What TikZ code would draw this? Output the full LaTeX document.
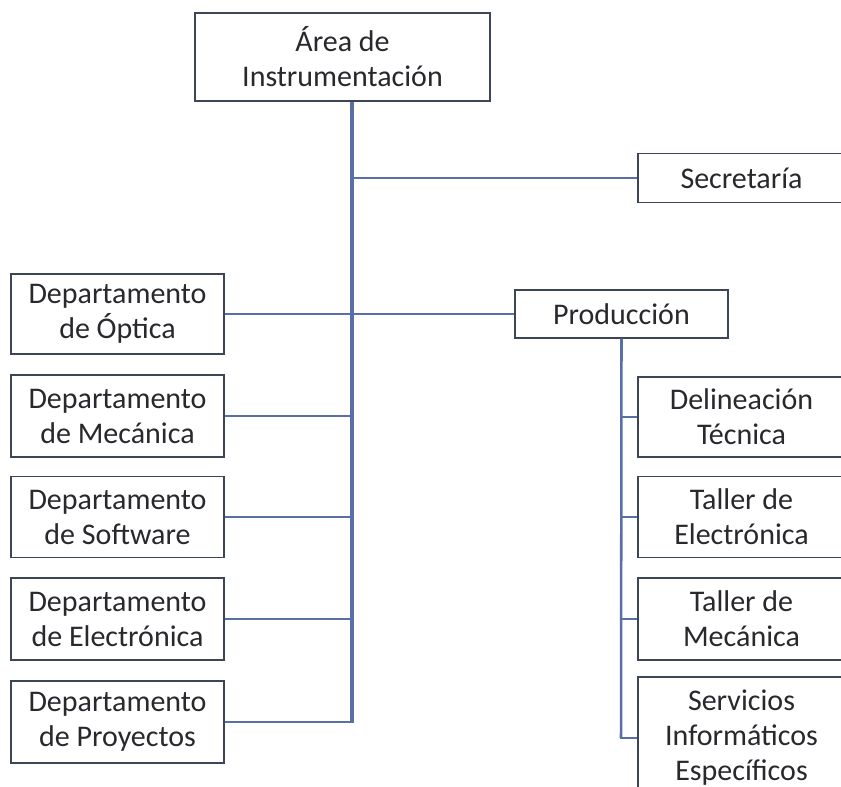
\documentclass[tikz,border=0pt]{standalone}
\usepackage{fontspec}
\setmainfont{Carlito}
\definecolor{linec}{RGB}{88,112,165}
\definecolor{boxc}{RGB}{60,70,85}
\definecolor{textc}{RGB}{40,40,45}
\begin{document}
\begin{tikzpicture}[x=0.75pt,y=-0.75pt,
  box/.style={draw=boxc,line width=1.1pt,fill=white,text=textc,align=center,
    inner sep=0pt,font=\fontsize{22.5}{26.25}\selectfont},
  trunk/.style={draw=linec,line width=3pt},
  branch/.style={draw=linec,line width=1.9pt}]
\useasboundingbox (0,0) rectangle (841,787);
\clip (0,0) rectangle (841,787);
% coordinates
\coordinate (trunkend) at (352,722);
\coordinate (ptrunkend) at (621,738);
% nodes
\node[box,minimum width=295*0.75pt,minimum height=88*0.75pt] (top) at (342.5,57) {Área de\\Instrumentación};
\node[box,minimum width=207*0.75pt,minimum height=49*0.75pt] (sec) at (741.5,178) {Secretaría};
\node[box,minimum width=213*0.75pt,minimum height=48*0.75pt] (prod) at (621.5,314) {Producción};
\node[box,minimum width=213*0.75pt,minimum height=80*0.75pt] (opt) at (117.5,314) {Departamento\\de Óptica};
\node[box,minimum width=213*0.75pt,minimum height=82*0.75pt] (mec) at (117.5,416) {Departamento\\de Mecánica};
\node[box,minimum width=213*0.75pt,minimum height=81*0.75pt] (soft) at (117.5,517) {Departamento\\de Software};
\node[box,minimum width=213*0.75pt,minimum height=82*0.75pt] (elec) at (117.5,619) {Departamento\\de Electrónica};
\node[box,minimum width=213*0.75pt,minimum height=82*0.75pt] (proy) at (117.5,722) {Departamento\\de Proyectos};
\node[box,minimum width=207*0.75pt,minimum height=80*0.75pt] (del) at (741.5,417) {Delineación\\Técnica};
\node[box,minimum width=207*0.75pt,minimum height=81*0.75pt] (tel) at (741.5,517) {Taller de\\Electrónica};
\node[box,minimum width=207*0.75pt,minimum height=82*0.75pt] (tme) at (741.5,619) {Taller de\\Mecánica};
\node[box,minimum width=207*0.75pt,minimum height=122*0.75pt] (serv) at (741.5,738) {Servicios\\Informáticos\\Específicos};
% connectors
\draw[branch] (sec.west) -- (sec.west -| trunkend);
\draw[branch] (opt.east) -- (opt.east -| prod.west);
\draw[branch] (mec.east) -- (mec.east -| trunkend);
\draw[branch] (soft.east) -- (soft.east -| trunkend);
\draw[branch] (elec.east) -- (elec.east -| trunkend);
\draw[branch] (proy.east) -- ([xshift=1.5pt]trunkend);
\draw[trunk] (top.south -| trunkend) -- (trunkend);
\draw[branch] (prod.south) -- (ptrunkend);
\draw[branch] (del.west) -- (del.west -| ptrunkend);
\draw[branch] (tel.west) -- (tel.west -| ptrunkend);
\draw[branch] (tme.west) -- (tme.west -| ptrunkend);
\draw[branch] (serv.west) -- ([xshift=-0.95pt]ptrunkend);
\end{tikzpicture}
\end{document}
